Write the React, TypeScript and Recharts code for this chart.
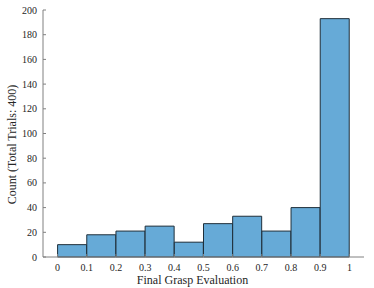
import React from "react";
import { BarChart, Bar, XAxis, YAxis } from "recharts";

const binCenters = [0.05, 0.15, 0.25, 0.35, 0.45, 0.55, 0.65, 0.75, 0.85, 0.95];
const counts = [10, 18, 21, 25, 12, 27, 33, 21, 40, 193];
const xTicks = [0, 0.1, 0.2, 0.3, 0.4, 0.5, 0.6, 0.7, 0.8, 0.9, 1];
const xTickLabels = ["0", "0.1", "0.2", "0.3", "0.4", "0.5", "0.6", "0.7", "0.8", "0.9", "1"];
const yTicks = [0, 20, 40, 60, 80, 100, 120, 140, 160, 180, 200];
const xLabel = "Final Grasp Evaluation";
const yLabel = "Count (Total Trials: 400)";

const data = binCenters.map((x, i) => ({ x, count: counts[i] }));

const FONT = "'Liberation Serif', 'Times New Roman', serif";
const TEXT = "#262626";
const BOX = "#808080";

const BottomTick = (props: any) => {
  const { x, y, payload, index } = props;
  const i = xTicks.indexOf(payload.value);
  return (
    <g>
      <line x1={x} x2={x} y1={y} y2={y - 3} stroke={BOX} strokeWidth={1} />
      <text x={x} y={y + 14} textAnchor="middle" fontFamily={FONT} fontSize={10} fill={TEXT}>
        {i >= 0 ? xTickLabels[i] : xTickLabels[index]}
      </text>
    </g>
  );
};

const TopTick = (props: any) => {
  const { x, y } = props;
  return <line x1={x} x2={x} y1={y} y2={y + 3} stroke={BOX} strokeWidth={1} />;
};

const LeftTick = (props: any) => {
  const { x, y, payload } = props;
  return (
    <g>
      <line x1={x} x2={x + 3} y1={y} y2={y} stroke={BOX} strokeWidth={1} />
      <text x={x - 6} y={y + 3.5} textAnchor="end" fontFamily={FONT} fontSize={10} fill={TEXT}>
        {payload.value}
      </text>
    </g>
  );
};

const RightTick = (props: any) => {
  const { x, y } = props;
  return <line x1={x} x2={x - 3} y1={y} y2={y} stroke={BOX} strokeWidth={1} />;
};

const XLabelContent = (props: any) => {
  const vb = props.viewBox;
  return (
    <text x={vb.x + vb.width / 2 - 11} y={284} textAnchor="middle" fontFamily={FONT} fontSize={12} fill={TEXT}>
      {xLabel}
    </text>
  );
};

const YLabelContent = (props: any) => {
  const vb = props.viewBox;
  const cx = 12;
  const cy = vb.y + vb.height / 2 + 11;
  return (
    <text
      x={cx}
      y={cy}
      transform={`rotate(-90 ${cx} ${cy})`}
      textAnchor="middle"
      dominantBaseline="central"
      fontFamily={FONT}
      fontSize={12}
      fill={TEXT}
    >
      {yLabel}
    </text>
  );
};

export default function App() {
  return (
    <div style={{ position: "absolute", left: 0, top: 0, width: 374, height: 288, background: "#fff" }}>
      <BarChart
        width={374}
        height={288}
        data={data}
        margin={{ top: 10, right: 10, bottom: 0, left: 0 }}
        barCategoryGap={0}
        barGap={0}
      >
        <XAxis
          xAxisId="bottom"
          dataKey="x"
          type="number"
          domain={[-0.05, 1.05]}
          ticks={xTicks}
          interval={0}
          height={31}
          tickSize={0}
          tickMargin={0}
          tickLine={false}
          axisLine={{ stroke: BOX, strokeWidth: 1 }}
          tick={<BottomTick />}
          label={{ content: <XLabelContent /> } as any}
        />
        <XAxis
          xAxisId="top"
          orientation="top"
          dataKey="x"
          type="number"
          domain={[-0.05, 1.05]}
          ticks={xTicks}
          interval={0}
          height={0}
          tickSize={0}
          tickMargin={0}
          tickLine={false}
          axisLine={{ stroke: BOX, strokeWidth: 1 }}
          tick={<TopTick />}
        />
        <YAxis
          yAxisId="left"
          type="number"
          domain={[0, 200]}
          ticks={yTicks}
          interval={0}
          width={43}
          tickSize={0}
          tickMargin={0}
          tickLine={false}
          axisLine={{ stroke: BOX, strokeWidth: 1 }}
          tick={<LeftTick />}
          label={{ content: <YLabelContent /> } as any}
        />
        <YAxis
          yAxisId="right"
          orientation="right"
          type="number"
          domain={[0, 200]}
          ticks={yTicks}
          interval={0}
          width={0}
          tickSize={0}
          tickMargin={0}
          tickLine={false}
          axisLine={{ stroke: BOX, strokeWidth: 1 }}
          tick={<RightTick />}
        />
        <Bar
          xAxisId="bottom"
          yAxisId="left"
          dataKey="count"
          fill="#66AAD7"
          stroke="#1f2f3a"
          strokeWidth={1}
          isAnimationActive={false}
        />
      </BarChart>
    </div>
  );
}
